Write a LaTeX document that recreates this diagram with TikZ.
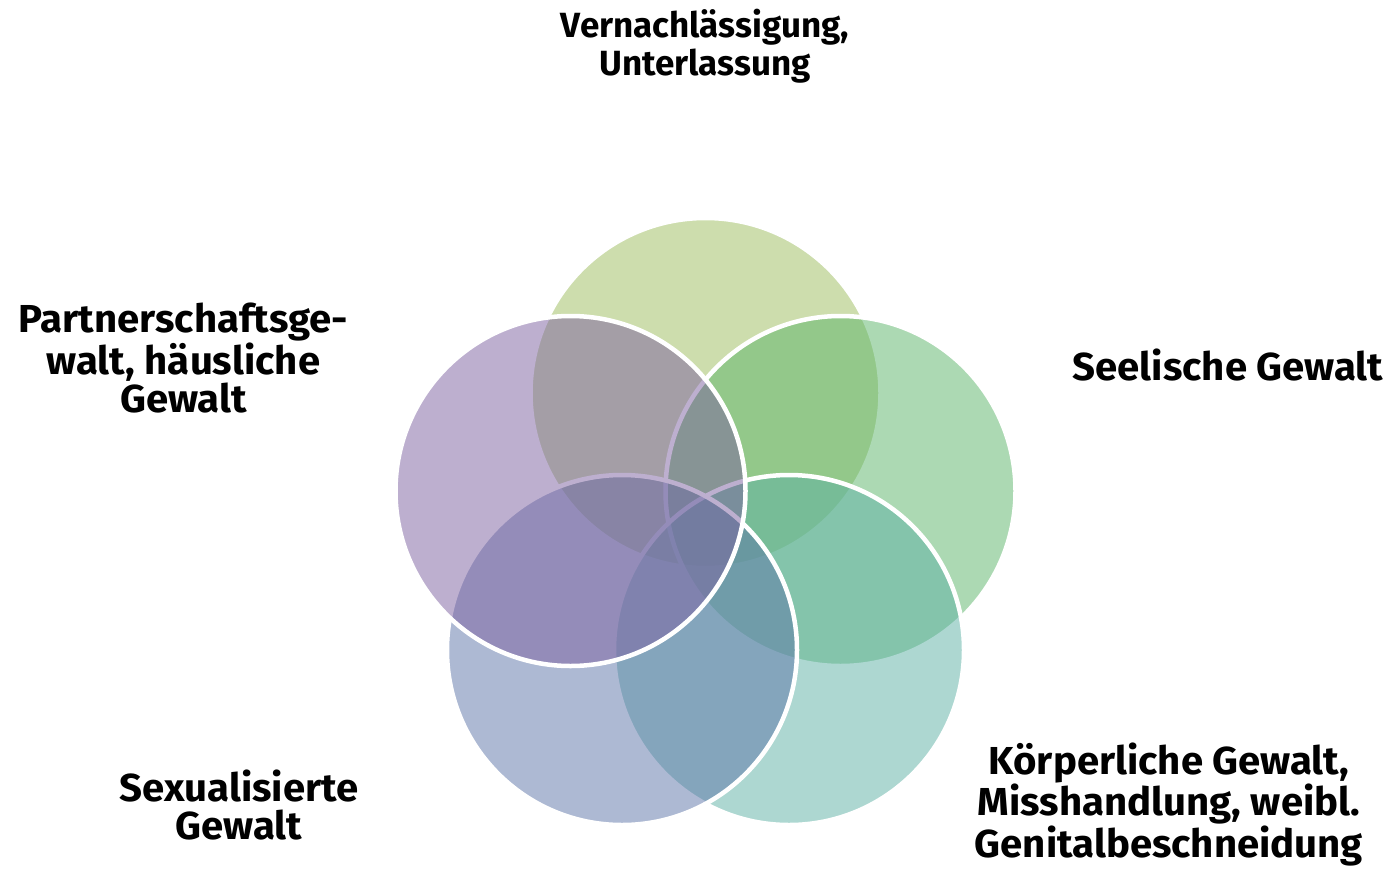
\documentclass[tikz,border=0pt]{standalone}
\usepackage{fontspec}
\setmainfont{Fira Sans}
\newfontfamily\lblwide{Fira Sans}[FakeStretch=1.03]
\definecolor{ctop}{RGB}{157,189,93}
\definecolor{cright}{RGB}{91,181,105}
\definecolor{cbr}{RGB}{93,177,165}
\definecolor{cbl}{RGB}{93,117,169}
\definecolor{cleft}{RGB}{125,97,161}
\begin{document}
\begin{tikzpicture}[x=1pt,y=-1pt,
  venn/.style={circle, minimum size=350pt, inner sep=0pt, draw=white, line width=4.5pt, fill opacity=0.5},
  lbl/.style={font=\fontsize{35}{37.5}\selectfont\bfseries, align=center, inner sep=0pt, text=black, anchor=base},
  lblbig/.style={lbl, font=\lblwide\fontsize{39}{38}\selectfont\bfseries}]
\useasboundingbox[fill=white] (0,0) rectangle (1389,868);
\node[venn, fill=ctop]   (vtop)   at (705.5,393) {};
\node[venn, fill=cright] (vright) at (840.5,491) {};
\node[venn, fill=cbr]    (vbr)    at (789,650) {};
\node[venn, fill=cbl]    (vbl)    at (622,650) {};
\node[venn, fill=cleft]  (vleft)  at (570.5,491) {};
\node[lbl] (lneglect) at (705,75) {Vernachlässigung,\\Unterlassung};
\node[lblbig] (lpsych) at (1228,380) {Seelische Gewalt};
\node[lblbig] (lpartner) at (183.5,412) {Partnerschaftsge-\\walt, häusliche\\Gewalt};
\node[lblbig] (lsexual) at (239,839) {Sexualisierte\\Gewalt};
\node[lblbig] (lphys) at (1169,857) {Körperliche Gewalt,\\Misshandlung, weibl.\\Genitalbeschneidung};
\end{tikzpicture}
\end{document}
